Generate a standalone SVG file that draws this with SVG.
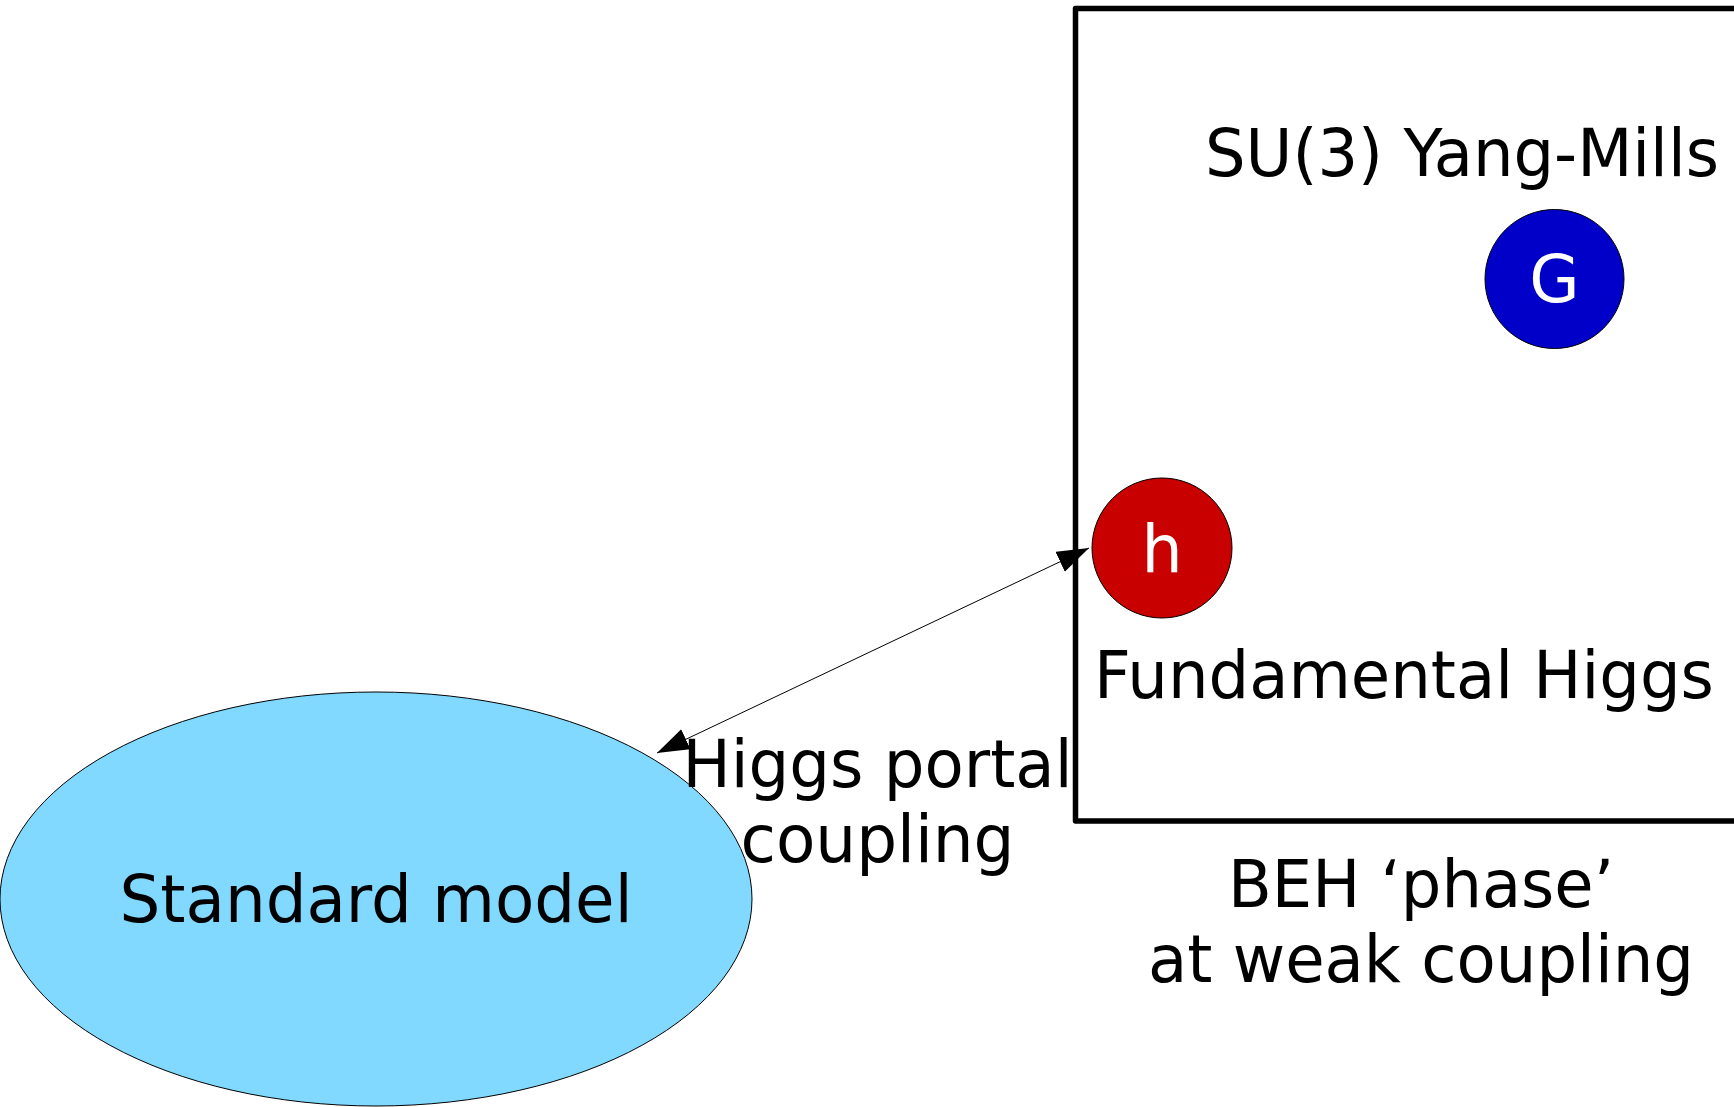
<svg xmlns="http://www.w3.org/2000/svg" width="1734" height="1107" viewBox="0 0 1734 1107">
  <style>
    .lbl { font-family: "DejaVu Sans", "Liberation Sans", sans-serif; font-size: 65px; fill: #000; }
    .mid { text-anchor: middle; }
    .inner { font-family: "DejaVu Sans", "Liberation Sans", sans-serif; font-size: 65px; fill: #fff; text-anchor: middle; }
    .frame { fill: none; stroke: #000; stroke-width: 5.5; stroke-linejoin: round; }
    .thin { stroke: #000; stroke-width: 1; }
  </style>
  <defs>
    <marker id="tip" markerUnits="userSpaceOnUse" markerWidth="34" markerHeight="24" refX="32" refY="11" orient="auto-start-reverse">
      <path d="M0,0 L32,11 L0,22 z" fill="#000"/>
    </marker>
  </defs>

  <rect width="1734" height="1107" fill="#fff"/>

  <!-- BEH phase sector box -->
  <g id="beh-box">
    <rect class="frame" x="1075.5" y="8.5" width="700" height="812.5"/>
    <text class="lbl mid" x="1421" y="907" textLength="386" lengthAdjust="spacingAndGlyphs">BEH ‘phase’</text>
    <text class="lbl mid" x="1421" y="982" textLength="546" lengthAdjust="spacingAndGlyphs">at weak coupling</text>
  </g>

  <g id="yang-mills-label">
    <text class="lbl" x="1205" y="176" textLength="514" lengthAdjust="spacingAndGlyphs">SU(3) Yang-Mills</text>
  </g>

  <g id="gluon">
    <circle cx="1554.5" cy="279" r="69.5" fill="#0000c8" class="thin"/>
    <text class="inner" x="1554.5" y="302">G</text>
  </g>

  <g id="higgs">
    <circle cx="1162" cy="548" r="70" fill="#c80000" class="thin"/>
    <text class="inner" x="1162" y="572">h</text>
  </g>

  <g id="higgs-label">
    <text class="lbl" x="1094" y="698" textLength="620" lengthAdjust="spacingAndGlyphs">Fundamental Higgs</text>
  </g>

  <g id="standard-model">
    <ellipse cx="376" cy="899" rx="376" ry="207" fill="#81d9ff" class="thin"/>
    <text class="lbl mid" x="376" y="922" textLength="513" lengthAdjust="spacingAndGlyphs">Standard model</text>
  </g>

  <!-- portal connector -->
  <g id="connectors">
    <line x1="657" y1="753" x2="1089" y2="548" class="thin" marker-start="url(#tip)" marker-end="url(#tip)"/>
    <text class="lbl mid" x="877.5" y="787" textLength="390" lengthAdjust="spacingAndGlyphs">Higgs portal</text>
    <text class="lbl mid" x="877.5" y="862" textLength="274" lengthAdjust="spacingAndGlyphs">coupling</text>
  </g>
</svg>
